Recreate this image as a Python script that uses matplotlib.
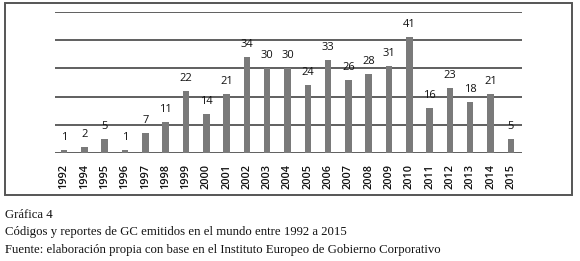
import matplotlib
matplotlib.use("Agg")
import matplotlib.pyplot as plt
from matplotlib.patches import Rectangle

years = ["1992", "1994", "1995", "1996", "1997", "1998", "1999", "2000", "2001", "2002",
         "2003", "2004", "2005", "2006", "2007", "2008", "2009", "2010", "2011", "2012",
         "2013", "2014", "2015"]
codes = [1, 2, 5, 1, 7, 11, 22, 14, 21, 34, 30, 30, 24, 33, 26, 28, 31, 41, 16, 23, 18, 21, 5]

caption = ["Gráfica 4",
           "Códigos y reportes de GC emitidos en el mundo entre 1992 a 2015",
           "Fuente: elaboración propia con base en el Instituto Europeo de Gobierno Corporativo"]

fig = plt.figure(figsize=(5.8, 2.61), dpi=100)
ax = fig.add_axes([55 / 580, 1 - 153 / 261, (522 - 55) / 580, (153 - 12) / 261])

x = range(len(years))
ax.bar(x, codes, width=0.32, color="#7a7a7a", zorder=3)
for i, v in enumerate(codes):
    ax.annotate(str(v), (i, v), xytext=(0, 5), textcoords="offset points",
                ha="center", va="bottom", fontsize=8, family="Open Sans", color="#111111")

ax.set_ylim(0, 50)
ax.set_xlim(-0.45, len(years) - 0.45)
ax.set_yticks(range(0, 51, 10))
ax.yaxis.grid(True, color="#444444", linewidth=1.2, zorder=0)
ax.set_yticklabels([])
ax.tick_params(axis="y", length=0)
ax.set_xticks(list(x))
ax.set_xticklabels(years, rotation=90, fontsize=7.8, family="Open Sans",
                   fontweight="semibold", color="#111111")
ax.tick_params(axis="x", length=0, pad=8)
for s in ax.spines.values():
    s.set_visible(False)

fig.patches.append(Rectangle((5 / 580, 1 - 195 / 261), 567 / 580, 192 / 261,
                             transform=fig.transFigure, fill=False,
                             edgecolor="#555555", linewidth=1.4))

for k, line in enumerate(caption):
    fig.text(5 / 580, 1 - (215 + 17.5 * k) / 261, line, fontsize=9.2,
             family="Liberation Serif", color="#111111", va="center")

fig.savefig("out.png", dpi=100)
